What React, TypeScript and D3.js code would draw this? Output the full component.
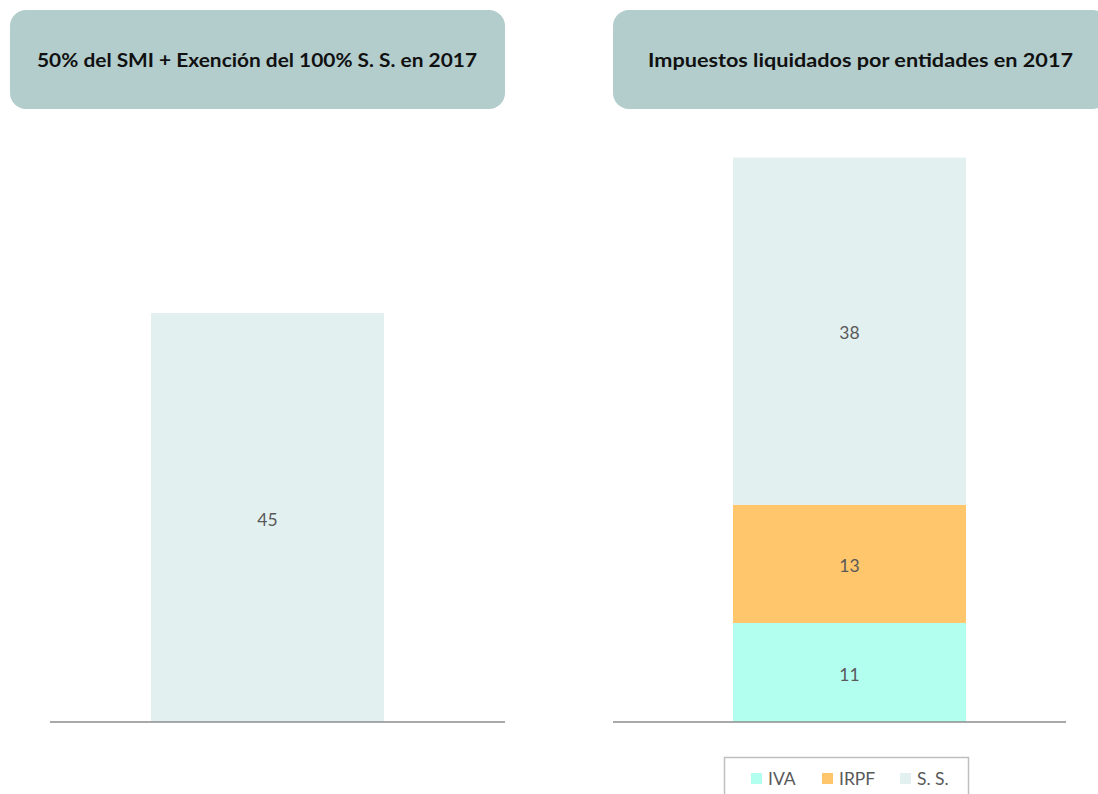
import React from "react";
import * as d3 from "d3";

const titles = ["50% del SMI + Exención del 100% S. S. en 2017", "Impuestos liquidados por entidades en 2017"];
const leftCategories = ["50% SMI + Exención"];
const leftValues = [45];
const seriesNames = ["IVA", "IRPF", "S. S."];
const rightValues = [10.9, 13.0, 38.2];
const seriesColors = ["#B3FFEF", "#FFC66B", "#E3F0F0"];

const W = 1098;
const H = 794;
const FONT = "Lato, 'Open Sans', 'DejaVu Sans', sans-serif";

export default function App() {
  const baseY = 722;
  const y = d3.scaleLinear().domain([0, 45]).range([baseY, 313]);
  const xLeft = d3.scaleBand().domain(leftCategories).range([151, 384]).padding(0);
  const xRight = d3.scaleBand().domain(["2017"]).range([733, 966]).padding(0);

  const stackData = [Object.fromEntries(seriesNames.map((n, i) => [n, rightValues[i]]))];
  const stacked = d3.stack<any>().keys(seriesNames)(stackData as any);
  const fmt = d3.format(".0f");

  const legendX = [751, 822, 900];

  return (
    <svg width={W} height={H} style={{ position: "absolute", left: 0, top: 0, background: "#fff" }} fontFamily={FONT}>
      {/* Title boxes */}
      <rect x={10} y={10} width={495} height={99} rx={16} fill="#B3CDCD" />
      <text x={257} y={67} textAnchor="middle" fontSize={19.5} fontWeight="bold" fill="#111" textLength={440} lengthAdjust="spacingAndGlyphs">{titles[0]}</text>
      <rect x={613} y={10} width={495} height={99} rx={16} fill="#B3CDCD" />
      <text x={860.5} y={67} textAnchor="middle" fontSize={19.5} fontWeight="bold" fill="#111" textLength={425} lengthAdjust="spacingAndGlyphs">{titles[1]}</text>

      {/* Left chart */}
      {leftValues.map((v, i) => (
        <g key={i}>
          <rect x={xLeft(leftCategories[i])} y={y(v)} width={xLeft.bandwidth()} height={baseY - y(v)} fill={seriesColors[2]} />
          <text x={xLeft(leftCategories[i])! + xLeft.bandwidth() / 2} y={(y(v) + baseY) / 2 + 2} dy="0.35em" textAnchor="middle" fontSize={17.5} fill="#595959">{fmt(v)}</text>
        </g>
      ))}
      <line x1={50} x2={505} y1={baseY} y2={baseY} stroke="#8C8C8C" strokeWidth={1.5} />

      {/* Right chart */}
      {stacked.map((s, i) => {
        const d = s[0];
        const x0 = xRight("2017")!;
        return (
          <g key={i}>
            <rect x={x0} y={y(d[1])} width={xRight.bandwidth()} height={y(d[0]) - y(d[1])} fill={seriesColors[i]} />
            <text x={x0 + xRight.bandwidth() / 2} y={(y(d[0]) + y(d[1])) / 2 + 2} dy="0.35em" textAnchor="middle" fontSize={17.5} fill="#595959">{fmt(rightValues[i])}</text>
          </g>
        );
      })}
      <line x1={613} x2={1066} y1={baseY} y2={baseY} stroke="#8C8C8C" strokeWidth={1.5} />

      {/* Legend */}
      <rect x={724.5} y={757.5} width={244} height={60} fill="#fff" stroke="#BFBFBF" strokeWidth={1.5} />
      {seriesNames.map((n, i) => (
        <g key={n}>
          <rect x={legendX[i]} y={773} width={11} height={11} fill={seriesColors[i]} />
          <text x={legendX[i] + 17} y={785} fontSize={17.5} fill="#595959">{n}</text>
        </g>
      ))}
    </svg>
  );
}
